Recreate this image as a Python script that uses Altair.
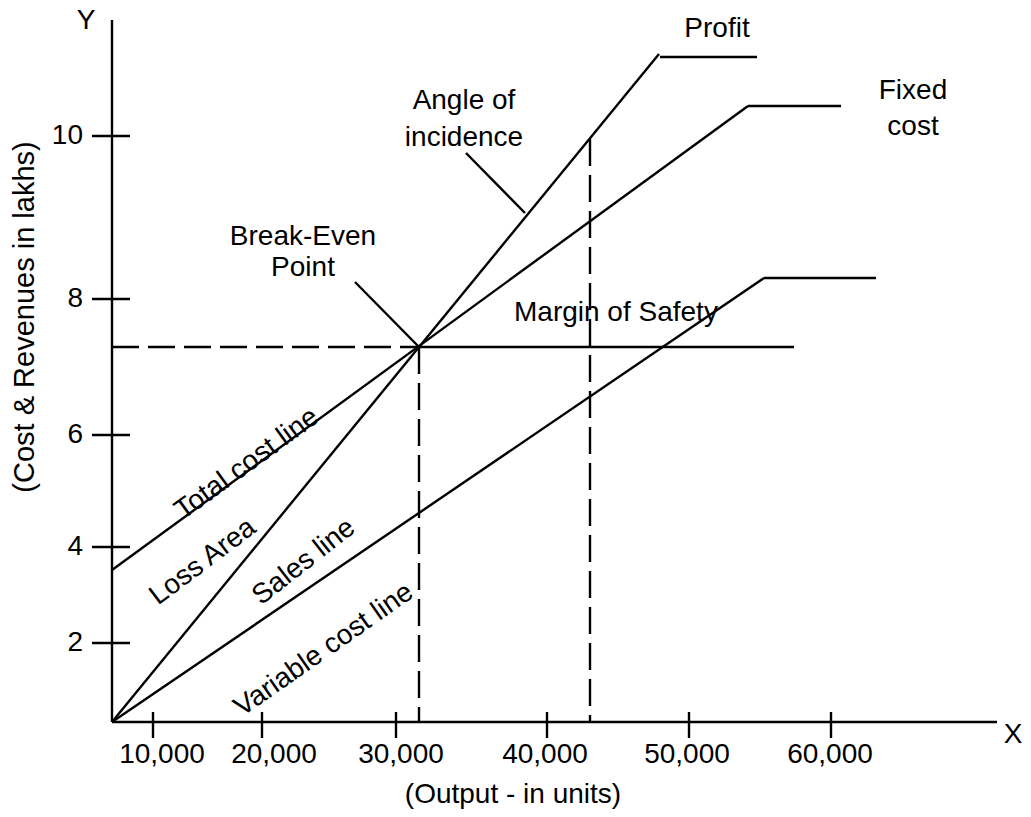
import altair as alt
import pandas as pd

# ---- Diagram geometry (chart units measured from the origin of the axes) ----
X_MAX = 885   # length of the output (X) axis
Y_MAX = 702   # length of the cost & revenue (Y) axis

# Tick marks and their labels
x_tick_pos = [41, 150, 284, 435, 577, 719]
x_label_pos = [50, 162, 289, 433, 575, 718]
x_tick_labels = ["10,000", "20,000", "30,000", "40,000", "50,000", "60,000"]
y_tick_pos = [79, 175, 287, 423, 586]
y_tick_labels = ["2", "4", "6", "8", "10"]

# Solid segments of the diagram
solid_names = ["x axis", "y axis", "sales line", "profit", "total cost line",
               "fixed cost", "variable cost line", "variable cost top",
               "margin of safety", "break-even pointer", "angle pointer"]
solid_x1 = [0, 0, 0, 548, 0, 636, 0, 652, 307, 307, 413]
solid_y1 = [0, 0, 0, 665, 152, 616, 0, 444, 375, 375, 509]
solid_x2 = [X_MAX, 0, 547, 645, 636, 729, 652, 764, 682, 243, 354]
solid_y2 = [0, Y_MAX, 668, 665, 616, 616, 444, 444, 375, 440, 569]

# Dashed guide lines through the break-even point and the margin of safety
dashed_x1 = [0, 307, 478]
dashed_y1 = [375, 375, 583]
dashed_x2 = [307, 307, 478]
dashed_y2 = [375, 0, 0]

# Text annotations (centred)
center_texts = ["Y", "X", "(Output - in units)",
                "Profit", "Fixed", "cost", "Angle of", "incidence",
                "Break-Even", "Point", "Total cost line", "Loss Area",
                "Sales line", "Variable cost line"]
center_x = [-26, 901, 401, 605, 801, 801, 352, 352, 191, 191, 135, 91, 192, 212]
center_y = [701, -13, -73, 693, 631, 595, 621, 584, 485, 454, 258, 160, 160, 72]
center_angle = [0, 0, 0, 0, 0, 0, 0, 0, 0, 0, 324, 323, 322, 325]

y_title = "(Cost & Revenues in lakhs)"
y_title_x = -87
y_title_y = 405

left_texts = ["Margin of Safety"]
left_x = [402]
left_y = [409]

FONT = "Liberation Sans"
FS = 28
SW = 2.4

# ---- Tables built from the arrays above ----
solid_df = pd.DataFrame({"name": solid_names, "x1": solid_x1, "y1": solid_y1,
                         "x2": solid_x2, "y2": solid_y2})
dashed_df = pd.DataFrame({"x1": dashed_x1, "y1": dashed_y1,
                          "x2": dashed_x2, "y2": dashed_y2})
ytick_df = pd.DataFrame({"y": y_tick_pos, "label": y_tick_labels})
xtick_df = pd.DataFrame({"x": x_tick_pos})
xlab_df = pd.DataFrame({"x": x_label_pos, "label": x_tick_labels})
ctext_df = pd.DataFrame({"text": center_texts, "x": center_x, "y": center_y,
                         "angle": center_angle})
ltext_df = pd.DataFrame({"text": left_texts, "x": left_x, "y": left_y})
ytitle_df = pd.DataFrame({"text": [y_title], "x": [y_title_x], "y": [y_title_y]})

xs = alt.Scale(domain=[0, X_MAX], nice=False, zero=False)
ys = alt.Scale(domain=[0, Y_MAX], nice=False, zero=False)

solid = alt.Chart(solid_df).mark_rule(color="black", strokeWidth=SW).encode(
    x=alt.X("x1:Q", scale=xs, axis=None), x2="x2:Q",
    y=alt.Y("y1:Q", scale=ys, axis=None), y2="y2:Q")

dashed = alt.Chart(dashed_df).mark_rule(color="black", strokeWidth=SW,
                                        strokeDash=[27, 9]).encode(
    x=alt.X("x1:Q", scale=xs, axis=None), x2="x2:Q",
    y=alt.Y("y1:Q", scale=ys, axis=None), y2="y2:Q")

yticks = alt.Chart(ytick_df).mark_rule(color="black", strokeWidth=SW).encode(
    x=alt.value(-20), x2=alt.value(18),
    y=alt.Y("y:Q", scale=ys, axis=None))

xticks = alt.Chart(xtick_df).mark_rule(color="black", strokeWidth=SW).encode(
    x=alt.X("x:Q", scale=xs, axis=None),
    y=alt.value(Y_MAX - 10), y2=alt.value(Y_MAX + 16))

ylabels = alt.Chart(ytick_df).mark_text(font=FONT, fontSize=FS, align="right",
                                        baseline="middle", color="black").encode(
    x=alt.value(-29), y=alt.Y("y:Q", scale=ys, axis=None), text="label:N")

xlabels = alt.Chart(xlab_df).mark_text(font=FONT, fontSize=FS, align="center",
                                       baseline="middle", color="black").encode(
    x=alt.X("x:Q", scale=xs, axis=None), y=alt.value(Y_MAX + 33), text="label:N")

ctext = alt.Chart(ctext_df).mark_text(font=FONT, fontSize=FS, align="center",
                                      baseline="middle", color="black").encode(
    x=alt.X("x:Q", scale=xs, axis=None), y=alt.Y("y:Q", scale=ys, axis=None),
    text="text:N", angle=alt.Angle("angle:Q", scale=None))

ytitle = alt.Chart(ytitle_df).mark_text(font=FONT, fontSize=29, align="center",
                                        baseline="middle", color="black",
                                        angle=270).encode(
    x=alt.X("x:Q", scale=xs, axis=None), y=alt.Y("y:Q", scale=ys, axis=None),
    text="text:N")

ltext = alt.Chart(ltext_df).mark_text(font=FONT, fontSize=FS, align="left",
                                      baseline="middle", color="black").encode(
    x=alt.X("x:Q", scale=xs, axis=None), y=alt.Y("y:Q", scale=ys, axis=None),
    text="text:N")

chart = alt.layer(solid, dashed, yticks, xticks, ylabels, xlabels, ctext,
                  ytitle, ltext).properties(
    width=X_MAX, height=Y_MAX,
    autosize=alt.AutoSizeParams(type="none"),
    padding={"left": 104, "top": 12, "right": 26, "bottom": 87},
    background="white",
).configure_view(stroke=None)

chart.save("out.html", embed_options={"renderer": "svg", "actions": False})
